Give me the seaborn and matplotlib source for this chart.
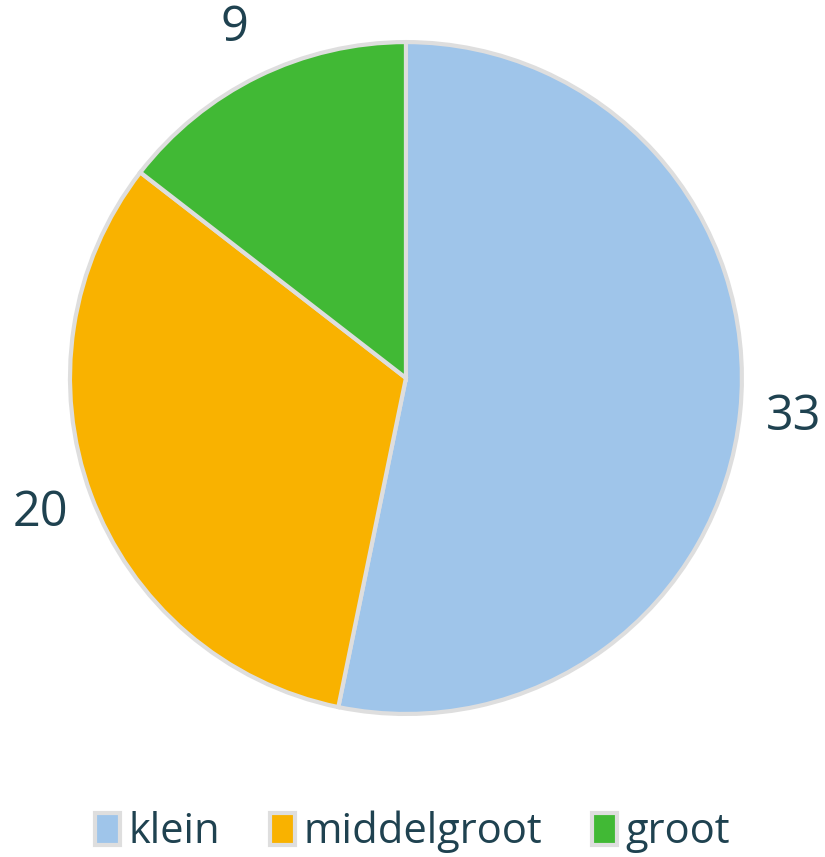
import matplotlib
matplotlib.use("Agg")
import matplotlib.pyplot as plt
import seaborn as sns
from matplotlib.patches import Patch

# --- data ---
categories = ["klein", "middelgroot", "groot"]
counts = [33, 20, 9]
colors = ["#9FC5EA", "#F9B200", "#41B935"]

sns.set_theme(style="white")
plt.rcParams["font.family"] = ["Open Sans", "DejaVu Sans"]
text_color = "#1F4250"
edge_color = "#DEDEDE"

fig = plt.figure(figsize=(8.25, 8.57), dpi=100)
ax = fig.add_axes([0.0848, 0.1669, 0.8145, 0.784])

wedges, texts = ax.pie(
    counts,
    labels=[str(c) for c in counts],
    colors=colors,
    startangle=90,
    counterclock=False,
    labeldistance=1.16,
    wedgeprops=dict(edgecolor=edge_color, linewidth=3),
    textprops=dict(color=text_color, fontsize=35),
)
for t in texts:
    t.set_ha("center")
    t.set_va("center")
    t.set_clip_on(False)
ax.set_xlim(-1, 1)
ax.set_ylim(-1, 1)
ax.set_aspect("equal")

handles = [Patch(facecolor=c, edgecolor=edge_color, linewidth=3) for c in colors]
fig.legend(
    handles, categories,
    loc="center", bbox_to_anchor=(0.5, 0.029),
    ncol=3, frameon=False,
    fontsize=30, labelcolor=text_color,
    handlelength=0.6, handleheight=0.8,
    handletextpad=0.2, columnspacing=1.2,
)

fig.savefig("out.png", dpi=100)
